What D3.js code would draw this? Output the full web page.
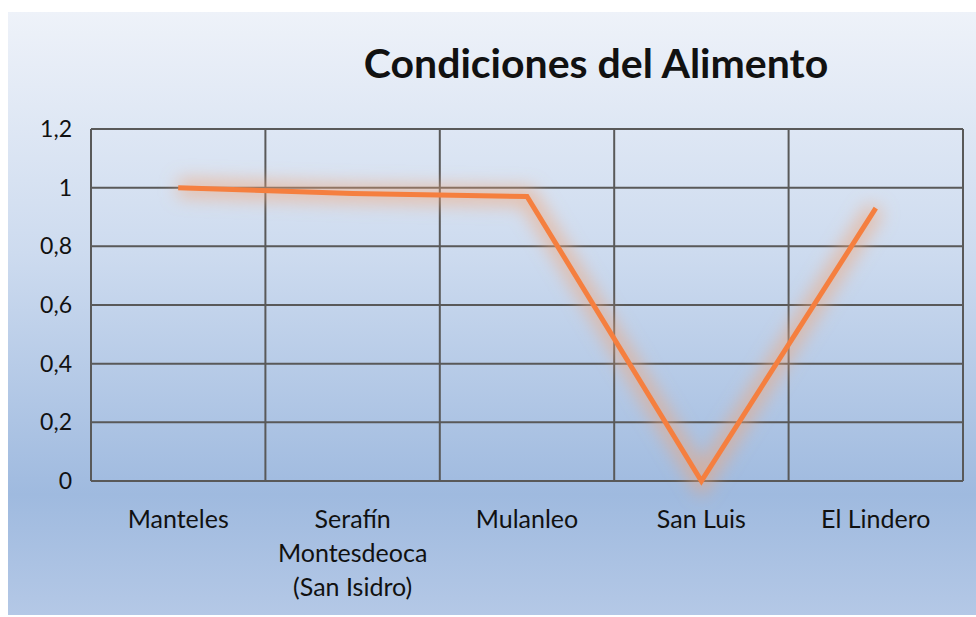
<!DOCTYPE html>
<html>
<head>
<meta charset="utf-8">
<script src="https://cdn.jsdelivr.net/npm/d3@7"></script>
<style>
  body { margin: 0; background: #fff; }
  text { font-family: Lato, "Open Sans", sans-serif; }
</style>
</head>
<body>
<div id="chart"></div>
<script>
var categories = [["Manteles"], ["Serafín", "Montesdeoca", "(San Isidro)"], ["Mulanleo"], ["San Luis"], ["El Lindero"]];
var values = [1, 0.98, 0.97, 0, 0.93];
var yTicks = [0, 0.2, 0.4, 0.6, 0.8, 1, 1.2];
var title = "Condiciones del Alimento";

var W = 976, H = 617;
var margin = {top: 129, right: 13, bottom: 136, left: 91};
var width = W - margin.left - margin.right,
    height = H - margin.top - margin.bottom;

var svg = d3.select('#chart').append('svg')
  .attr('width', W)
  .attr('height', H);

var defs = svg.append('defs');
var grad = defs.append('linearGradient')
  .attr('id', 'bg')
  .attr('x1', 0).attr('y1', 0).attr('x2', 0).attr('y2', 1);
grad.append('stop').attr('offset', '0%').attr('stop-color', '#eef2f9');
grad.append('stop').attr('offset', '40%').attr('stop-color', '#cddbef');
grad.append('stop').attr('offset', '80%').attr('stop-color', '#9fbadf');
grad.append('stop').attr('offset', '100%').attr('stop-color', '#b4c8e6');

var glow = defs.append('filter').attr('id', 'glow')
  .attr('x', '-20%').attr('y', '-20%').attr('width', '140%').attr('height', '140%');
glow.append('feGaussianBlur').attr('stdDeviation', 9);

svg.append('rect')
  .attr('x', 8).attr('y', 12)
  .attr('width', W - 8).attr('height', H - 14)
  .attr('fill', 'url(#bg)');

svg.append('text')
  .attr('x', 596).attr('y', 78)
  .attr('text-anchor', 'middle')
  .attr('font-size', 41)
  .attr('font-weight', 'bold')
  .attr('fill', '#111')
  .text(title);

var g = svg.append('g')
  .attr('transform', 'translate(' + margin.left + ',' + margin.top + ')');

// scales
var xScale = d3.scaleBand()
  .domain(d3.range(categories.length))
  .range([0, width]);

var yScale = d3.scaleLinear()
  .domain([0, 1.2])
  .range([height, 0]);

// horizontal grid
g.selectAll('.hgrid')
  .data(yTicks)
  .enter().append('line')
  .attr('x1', 0).attr('x2', width)
  .attr('y1', function(d) { return yScale(d); })
  .attr('y2', function(d) { return yScale(d); })
  .attr('stroke', '#595959')
  .attr('stroke-width', 2);

// vertical grid at category boundaries
var bounds = d3.range(categories.length + 1);
g.selectAll('.vgrid')
  .data(bounds)
  .enter().append('line')
  .attr('x1', function(d) { return d * xScale.step(); })
  .attr('x2', function(d) { return d * xScale.step(); })
  .attr('y1', 0).attr('y2', height)
  .attr('stroke', '#595959')
  .attr('stroke-width', 2);

// y axis labels
var yAxis = d3.axisLeft(yScale)
  .tickValues(yTicks)
  .tickSize(0)
  .tickPadding(19)
  .tickFormat(function(d) { return String(d).replace('.', ','); });

g.append('g')
  .call(yAxis)
  .call(function(a) { a.select('.domain').remove(); })
  .selectAll('text')
  .attr('font-size', 23)
  .attr('fill', '#111');

// x labels
var xl = g.selectAll('.xlab')
  .data(categories)
  .enter().append('text')
  .attr('text-anchor', 'middle')
  .attr('font-size', 25)
  .attr('fill', '#111')
  .attr('transform', function(d, i) {
    return 'translate(' + (xScale(i) + xScale.bandwidth() / 2) + ',' + (height + 47) + ')';
  });
xl.selectAll('tspan')
  .data(function(d) { return d; })
  .enter().append('tspan')
  .attr('x', 0)
  .attr('dy', function(d, i) { return i === 0 ? 0 : 34; })
  .text(function(d) { return d; });

// line
var line = d3.line()
  .x(function(d, i) { return xScale(i) + xScale.bandwidth() / 2; })
  .y(function(d) { return yScale(d); });

g.append('path')
  .datum(values)
  .attr('d', line)
  .attr('fill', 'none')
  .attr('stroke', '#f1a577')
  .attr('stroke-width', 18)
  .attr('stroke-opacity', 0.6)
  .attr('filter', 'url(#glow)');

g.append('path')
  .datum(values)
  .attr('d', line)
  .attr('fill', 'none')
  .attr('stroke', '#f57f3f')
  .attr('stroke-width', 5);
</script>
</body>
</html>
